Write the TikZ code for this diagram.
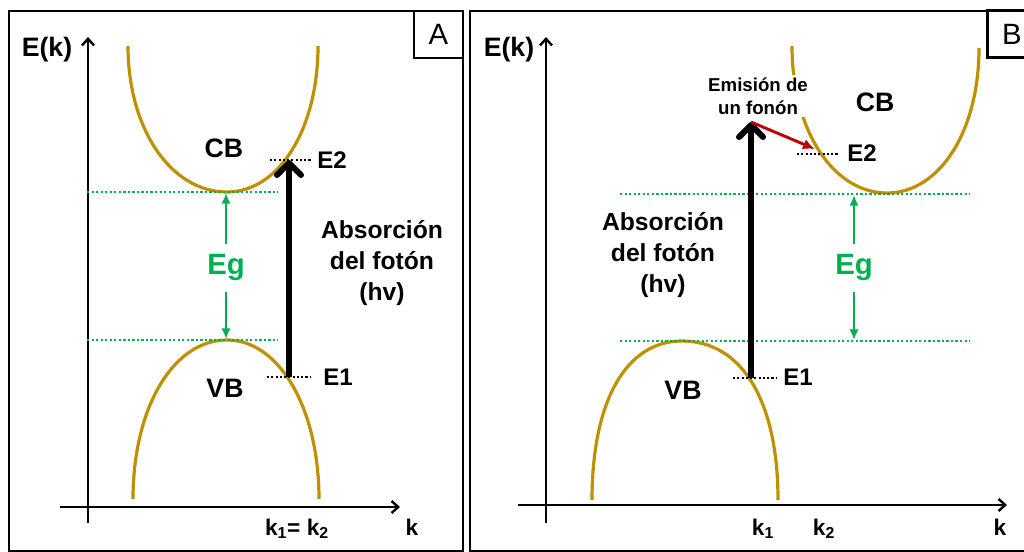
\documentclass[tikz,border=0pt]{standalone}
\usepackage{fontspec}
\setmainfont{Liberation Sans}
\usetikzlibrary{positioning}
\usetikzlibrary{arrows.meta}

\definecolor{bandgold}{RGB}{191,144,0}
\definecolor{gapgreen}{RGB}{0,176,80}
\definecolor{phononred}{RGB}{192,0,0}

\tikzset{
  panel/.style={draw,line width=1.6pt},
  tag/.style={draw,line width=1.6pt,minimum width=36.75pt,minimum height=35.25pt,inner sep=0pt,font=\fontsize{22}{26}\selectfont},
  band/.style={bandgold,line width=2.4pt},
  axis/.style={-{Straight Barb[length=5pt,width=9pt]},line width=1.8pt},
  level/.style={line width=1.8pt,dash pattern=on 1.6pt off 1.6pt},
  gaplevel/.style={gapgreen,line width=1.8pt,dash pattern=on 1.7pt off 1.7pt},
  gaparrow/.style={gapgreen,-{Latex[length=8pt,width=7pt]},line width=1.8pt},
  photon/.style={-{Straight Barb[length=9pt,width=18pt,round]},line width=4.5pt},
  phonon/.style={phononred,-{Latex[length=9pt,width=8pt]},line width=2.2pt},
  axlbl/.style={inner sep=0pt,font=\bfseries\fontsize{20}{24}\selectfont},
  klbl/.style={inner sep=0pt,anchor=base,font=\bfseries\fontsize{17}{20}\selectfont},
  lvllbl/.style={inner sep=0pt,anchor=west,font=\bfseries\fontsize{18}{21}\selectfont},
  bandlbl/.style={inner sep=0pt,font=\bfseries\fontsize{20}{24}\selectfont},
  eglbl/.style={text=gapgreen,inner xsep=0pt,inner ysep=8pt,font=\bfseries\fontsize{22}{26}\selectfont},
  abslbl/.style={align=center,inner sep=0pt,font=\bfseries\fontsize{18.5}{23}\selectfont},
  phlbl/.style={align=center,fill=white,inner sep=2pt,font=\bfseries\fontsize{14}{17}\selectfont}
}

\begin{document}
\begin{tikzpicture}[x=0.75pt,y=0.75pt]
\useasboundingbox (0,0) rectangle (1024,-552);

  % frames
  \draw[panel] (9,-11) rectangle (463,-551);
  \draw[panel] (470,-11) rectangle (1040,-551);
  \node[tag] (tagA) at (438.5,-34.5) {A};
  \node[tag] (tagB) at (1012,-34) {B};

  %%%% panel A
  % axes
  \draw[axis] (88,-523) -- (88,-37);
  \draw[axis] (60,-507) -- (400,-507);
  \node[axlbl] (EkA) at (47,-50) {E(k)};
  \node[klbl] (kA) at (412,-535) {k};
  \node[klbl] (kkA) at (297,-535) {k\textsubscript{1}= k\textsubscript{2}};

  % bands
  \draw[band] (128,-46) .. controls (128,-129) and (171,-192) .. (227,-192)
    .. controls (279,-192) and (318,-129) .. (318,-46);
  \draw[band] (133,-499) .. controls (133,-408) and (173,-340) .. (227,-340)
    .. controls (279,-340) and (319,-408) .. (319,-499);
  \node[bandlbl] (CBA) at (224,-148) {CB};
  \node[bandlbl] (VBA) at (225,-388) {VB};

  % gap
  \draw[gaplevel] (87,-192) -- (278,-192);
  \draw[gaplevel] (87,-340) -- (278,-340);
  \coordinate (cbA) at (226,-193);
  \coordinate (vbA) at (226,-339);
  \node[eglbl] (EgA) at (226,-268) {Eg};
  \draw[gaparrow] (EgA.north) -- (cbA);
  \draw[gaparrow] (EgA.south) -- (vbA);

  % levels
  \coordinate (E1A) at (289,-377);
  \coordinate (E2A) at (289,-160);
  \draw[level] (267,-377) -- (310,-377);
  \draw[level] (270,-160) -- (312,-160);
  \node[lvllbl] (lE1A) at (323,-377) {E1};
  \node[lvllbl] (lE2A) at (317,-160) {E2};

  % photon
  \draw[photon] (E1A) -- (E2A);
  \node[abslbl] (absA) at (382,-263) {Absorción\\del fotón\\(hv)};

  %%%% panel B
  % axes
  \draw[axis] (546,-523) -- (546,-37);
  \draw[axis] (518,-505) -- (1007,-505);
  \node[axlbl] (EkB) at (509,-50) {E(k)};
  \node[klbl] (kB) at (1000,-535) {k};
  \node[klbl] (k1B) at (763,-535) {k\textsubscript{1}};
  \node[klbl] (k2B) at (824,-535) {k\textsubscript{2}};

  % bands
  \draw[band] (792,-46) .. controls (792,-130) and (833,-193) .. (887,-193)
    .. controls (939,-193) and (979,-132) .. (979,-48);
  \draw[band] (592,-500) .. controls (592,-401) and (626,-341) .. (682,-341)
    .. controls (742,-341) and (778,-401) .. (778,-500);
  \node[bandlbl] (CBB) at (875,-102) {CB};
  \node[bandlbl] (VBB) at (683,-390) {VB};

  % gap
  \draw[gaplevel] (620,-194) -- (970,-194);
  \draw[gaplevel] (620,-341) -- (970,-341);
  \coordinate (cbB) at (854,-195);
  \coordinate (vbB) at (854,-340);
  \node[eglbl] (EgB) at (854,-268) {Eg};
  \draw[gaparrow] (EgB.north) -- (cbB);
  \draw[gaparrow] (EgB.south) -- (vbB);

  % levels
  \coordinate (E1B) at (751,-378);
  \coordinate (topB) at (751,-122);
  \coordinate (E2B) at (815,-149);
  \draw[level] (733,-378) -- (776,-378);
  \draw[level] (797,-154) -- (839,-154);
  \node[lvllbl] (lE1B) at (783,-377) {E1};
  \node[lvllbl] (lE2B) at (847,-153) {E2};

  % photon and phonon
  \draw[photon] (E1B) -- (topB);
  \draw[phonon] (topB) -- (E2B);
  \node[abslbl] (absB) at (663,-255) {Absorción\\del fotón\\(hv)};
  \node[phlbl] (emB) at (758,-96) {Emisión de\\un fonón};

\end{tikzpicture}
\end{document}
